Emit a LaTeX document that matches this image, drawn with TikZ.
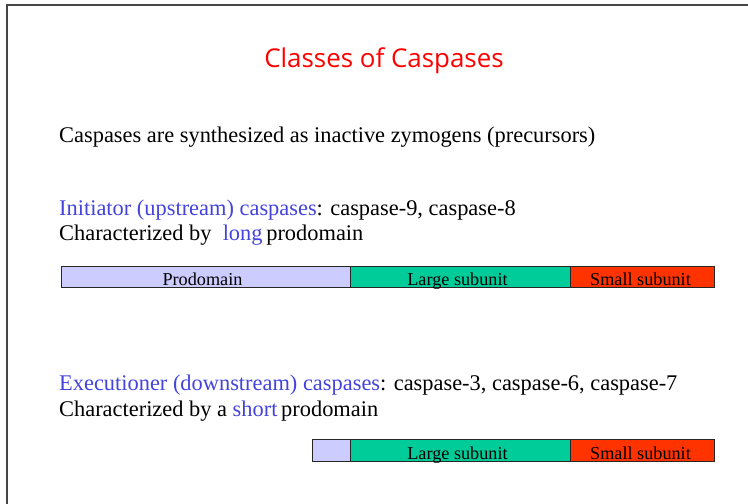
\documentclass[tikz,border=0pt]{standalone}
\usepackage{fontspec}
\setmainfont{Liberation Serif}
\newfontfamily\titlefont{Open Sans}
\definecolor{tred}{RGB}{255,0,0}
\definecolor{tblue}{RGB}{68,68,221}
\definecolor{prodo}{RGB}{204,204,255}
\definecolor{large}{RGB}{0,204,153}
\definecolor{small}{RGB}{255,51,0}
\definecolor{frame}{RGB}{70,70,70}
\begin{document}
\begin{tikzpicture}[x=1pt,y=-1pt,
  body/.style={anchor=base west,inner sep=0pt,font=\fontsize{22.4}{25}\selectfont},
  seg/.style={draw=black!85,line width=0.9pt,inner sep=0pt},
  seglabel/.style={anchor=base,inner sep=0pt,font=\fontsize{18.2}{20}\selectfont}]
\useasboundingbox (0,0) rectangle (748,504);
\fill[white] (0,0) rectangle (748,504);
\draw[frame,line width=2pt] (7,505) -- (7,5) -- (749,5);
\node[anchor=base,inner sep=0pt,text=tred,font=\titlefont\fontsize{25.9}{28}\selectfont] (title) at (384,67) {Classes of Caspases};
\node[body] (intro) at (59,142) {Caspases are synthesized as inactive zymogens (precursors)};
\node[body] (init) at (59,215) {\textcolor{tblue}{Initiator (upstream) caspases}: caspase-9, caspase-8};
\node[body] (initc) at (59,240) {Characterized by\ \ \textcolor{tblue}{long}\,prodomain};
% bar 1
\node[seg,fill=prodo,minimum width=289pt,minimum height=21pt] (p1) at (205.5,276.5) {};
\node[seg,fill=large,minimum width=220pt,minimum height=21pt] (l1) at (460,276.5) {};
\node[seg,fill=small,minimum width=144pt,minimum height=21pt] (s1) at (642,276.5) {};
\node[seglabel] (p1t) at (202.5,285.5) {Prodomain};
\node[seglabel] (l1t) at (457.5,285.5) {Large subunit};
\node[seglabel] (s1t) at (640.5,285.5) {Small subunit};
\node[body] (exec) at (59,390) {\textcolor{tblue}{Executioner (downstream) caspases}: caspase-3, caspase-6, caspase-7};
\node[body] (execc) at (59,416) {Characterized by a \textcolor{tblue}{short}\,prodomain};
% bar 2
\node[seg,fill=prodo,minimum width=38pt,minimum height=22pt] (p2) at (331,450) {};
\node[seg,fill=large,minimum width=220pt,minimum height=22pt] (l2) at (460,450) {};
\node[seg,fill=small,minimum width=144pt,minimum height=22pt] (s2) at (642,450) {};
\node[seglabel] (l2t) at (457.5,459.5) {Large subunit};
\node[seglabel] (s2t) at (640.5,459.5) {Small subunit};
\end{tikzpicture}
\end{document}
